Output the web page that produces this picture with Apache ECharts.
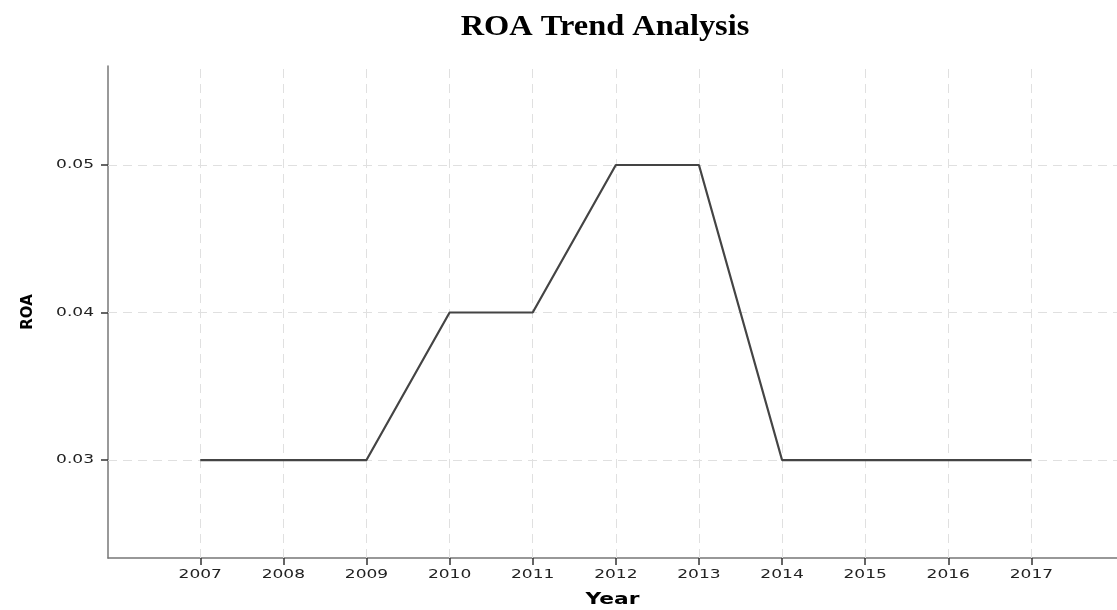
<!DOCTYPE html>
<html>
<head>
<meta charset="utf-8">
<title>ROA Trend Analysis</title>
<script src="https://cdn.jsdelivr.net/npm/echarts@6/dist/echarts.min.js"></script>
<style>
html, body { margin: 0; padding: 0; background: #fff; }
#chart { width: 1117px; height: 610px; }
</style>
</head>
<body>
<div id="chart"></div>
<script>
var years = [2007, 2008, 2009, 2010, 2011, 2012, 2013, 2014, 2015, 2016, 2017];
var roa = [0.03, 0.03, 0.03, 0.04, 0.04, 0.05, 0.05, 0.03, 0.03, 0.03, 0.03];
var yTicks = [0.03, 0.04, 0.05];

// the original export has its text squeezed wide, so stretch glyphs a bit
// horizontally around their anchor point (alignment stays the same)
var rawFillText = CanvasRenderingContext2D.prototype.fillText;
CanvasRenderingContext2D.prototype.fillText = function (text, x, y, maxWidth) {
    var s = String(text), k = 1;
    if (/^[0-9]/.test(s)) k = 1.42;
    else if (s === 'Year') k = 1.45;
    else if (s === 'ROA Trend Analysis') k = 1.08;
    if (k === 1) {
        return maxWidth === undefined ? rawFillText.call(this, text, x, y) : rawFillText.call(this, text, x, y, maxWidth);
    }
    this.save();
    this.translate(x, y);
    this.scale(k, 1);
    rawFillText.call(this, text, 0, 0);
    this.restore();
};

var chart = echarts.init(document.getElementById('chart'));

var gridDash = { color: '#e0e0e0', type: [9, 6], width: 1 };
var guideLines = [];
years.forEach(function (y) { guideLines.push({ xAxis: y }); });
yTicks.forEach(function (v) { guideLines.push({ yAxis: v }); });

chart.setOption({
    animation: false,
    title: {
        text: 'ROA Trend Analysis',
        left: 600,
        textAlign: 'center',
        top: 7,
        textStyle: { fontFamily: 'Liberation Serif', fontWeight: 'bold', fontSize: 30, color: '#000' }
    },
    grid: { left: 108, top: 66, right: 0, bottom: 52, containLabel: false, outerBoundsMode: 'none' },
    xAxis: {
        type: 'value',
        min: 2005.89,
        max: 2018.03,
        name: 'Year',
        nameLocation: 'middle',
        nameGap: 35,
        nameTextStyle: { fontFamily: 'DejaVu Sans', fontWeight: 'bold', fontSize: 15, color: '#000' },
        axisLine: { lineStyle: { color: '#777', width: 1.5 } },
        axisTick: { show: true, customValues: years, length: 7, lineStyle: { color: '#333', width: 1.5 } },
        axisLabel: { customValues: years, formatter: function (v) { return String(v); }, fontFamily: 'DejaVu Sans', fontSize: 12, color: '#222', margin: 11 },
        splitLine: { show: false }
    },
    yAxis: {
        type: 'value',
        min: 0.02336,
        max: 0.05671,
        name: 'ROA',
        nameLocation: 'middle',
        nameGap: 72,
        nameRotate: 90,
        nameTextStyle: { fontFamily: 'DejaVu Sans', fontWeight: 'bold', fontSize: 15, color: '#000' },
        axisLine: { show: true, lineStyle: { color: '#777', width: 1.5 } },
        axisTick: { show: true, customValues: yTicks, length: 7, lineStyle: { color: '#333', width: 1.5 } },
        axisLabel: { customValues: yTicks, formatter: function (v) { return v.toFixed(2); }, fontFamily: 'DejaVu Sans', fontSize: 12, color: '#222', margin: 14 },
        splitLine: { show: false }
    },
    series: [{
        type: 'line',
        data: years.map(function (y, i) { return [y, roa[i]]; }),
        symbol: 'none',
        lineStyle: { color: '#444', width: 2.2 },
        z: 3,
        markLine: {
            silent: true,
            symbol: 'none',
            label: { show: false },
            lineStyle: gridDash,
            data: guideLines,
            z: 1
        }
    }]
});
</script>
</body>
</html>
